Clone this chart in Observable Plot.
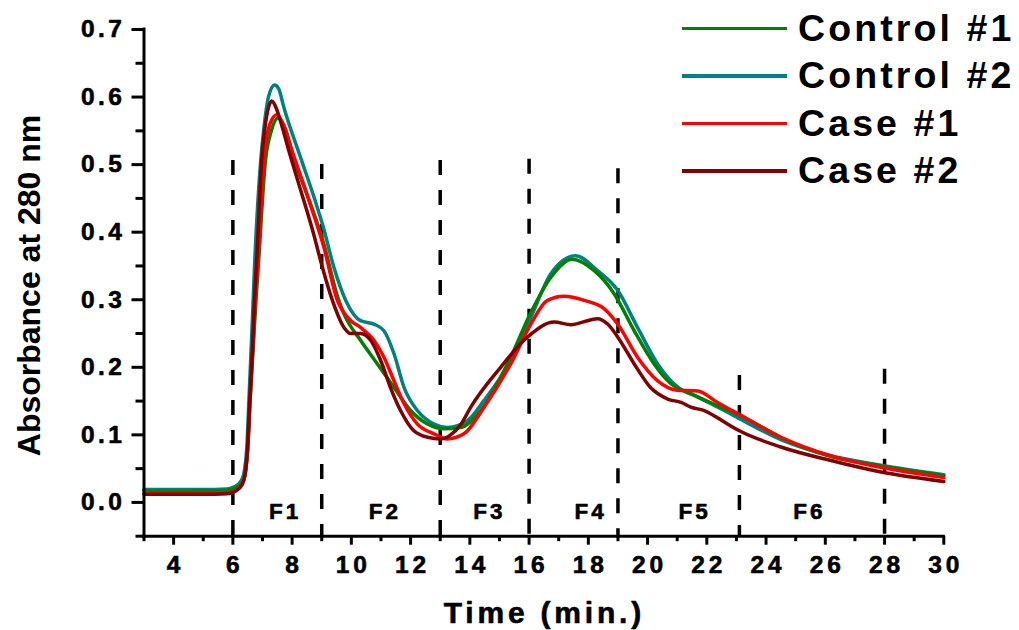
<!DOCTYPE html>
<html><head><meta charset="utf-8">
<script src="https://cdn.jsdelivr.net/npm/d3@7"></script>
<script src="https://cdn.jsdelivr.net/npm/@observablehq/plot@0.6"></script>
<style>
html,body{margin:0;padding:0;background:#fff;}
#wrap{position:relative;width:1019px;height:630px;font-family:"Liberation Sans",Arial,sans-serif;}
#legend{position:absolute;left:682px;top:4.5px;}
.row{display:flex;align-items:center;height:47.6px;}
.sw{width:105px;height:3.5px;margin-right:11px;}
.lab{font-size:37.5px;font-weight:bold;letter-spacing:3.1px;line-height:47.6px;color:#000;white-space:nowrap;}
</style></head><body><div id="wrap"></div>
<script>
// ---- data (time in min, absorbance at 280 nm) ----
const control1 = [[3,0.017],[4,0.017],[5,0.017],[5.8,0.018],[6.1,0.022],[6.32,0.03],[6.43,0.048],[6.5,0.08],[6.58,0.15],[6.68,0.225],[6.78,0.3],[6.87,0.358],[7.1,0.506],[7.3,0.55],[7.52,0.569],[7.75,0.555],[8.05,0.51],[8.55,0.45],[9.1,0.378],[9.25,0.352],[9.53,0.305],[9.75,0.279],[10.31,0.24],[10.88,0.205],[11.44,0.17],[12.0,0.136],[12.57,0.116],[13.13,0.109],[13.69,0.111],[14.37,0.136],[15.38,0.215],[16.06,0.281],[16.73,0.333],[17.45,0.36],[18.2,0.343],[18.87,0.309],[19.55,0.254],[20.22,0.205],[20.78,0.176],[21.46,0.161],[22.36,0.143],[23.3,0.125],[24.5,0.096],[26.19,0.068],[27.88,0.054],[30,0.04]];
const control2 = [[3,0.019],[4,0.019],[5,0.019],[5.8,0.02],[6.05,0.023],[6.28,0.032],[6.4,0.05],[6.47,0.08],[6.55,0.16],[6.64,0.25],[6.74,0.358],[6.94,0.506],[7.05,0.555],[7.2,0.6],[7.41,0.618],[7.55,0.612],[7.72,0.585],[8.29,0.51],[8.79,0.445],[9.05,0.408],[9.41,0.348],[9.81,0.299],[10.31,0.269],[10.76,0.264],[11.1,0.254],[11.44,0.22],[11.78,0.17],[12.23,0.136],[12.79,0.116],[13.24,0.111],[13.92,0.121],[14.48,0.151],[15.38,0.21],[16.06,0.274],[16.73,0.338],[17.57,0.365],[18.31,0.343],[18.99,0.314],[19.66,0.259],[20.34,0.205],[21.01,0.171],[21.69,0.156],[22.59,0.136],[23.1,0.124],[24.5,0.093],[26.19,0.069],[27.88,0.055],[30,0.041]];
const case1 = [[3,0.013],[4,0.013],[5,0.013],[5.8,0.014],[6.1,0.018],[6.32,0.028],[6.43,0.047],[6.5,0.077],[6.58,0.151],[6.67,0.225],[6.76,0.3],[6.85,0.358],[7.05,0.506],[7.25,0.56],[7.48,0.574],[7.7,0.56],[8.0,0.52],[8.51,0.455],[9.07,0.378],[9.53,0.299],[9.98,0.269],[10.31,0.259],[10.76,0.24],[11.1,0.215],[11.44,0.18],[11.78,0.146],[12.23,0.116],[12.79,0.1015],[13.24,0.094],[13.8,0.1015],[14.48,0.141],[15.38,0.205],[16.06,0.264],[16.62,0.299],[17.18,0.305],[17.86,0.299],[18.53,0.287],[18.99,0.264],[19.66,0.215],[20.34,0.18],[21.01,0.166],[21.69,0.165],[22.36,0.148],[23.1,0.13],[24.5,0.0965],[26.19,0.069],[27.88,0.052],[30,0.037]];
const case2 = [[3,0.012],[4,0.012],[5,0.012],[5.8,0.013],[6.1,0.017],[6.32,0.027],[6.43,0.047],[6.49,0.077],[6.57,0.151],[6.66,0.225],[6.73,0.3],[6.82,0.373],[6.97,0.506],[7.1,0.56],[7.31,0.594],[7.45,0.585],[7.67,0.555],[7.88,0.522],[8.29,0.462],[8.74,0.395],[8.96,0.358],[9.36,0.299],[9.75,0.259],[9.98,0.25],[10.31,0.25],[10.65,0.24],[10.99,0.21],[11.32,0.17],[11.66,0.136],[12.11,0.106],[12.57,0.0965],[13.02,0.094],[13.35,0.1],[13.69,0.115],[14.03,0.141],[15.04,0.2],[15.95,0.245],[16.85,0.267],[17.41,0.263],[18.31,0.272],[18.65,0.264],[18.99,0.245],[19.55,0.205],[20.1,0.17],[20.68,0.153],[21.13,0.148],[21.46,0.141],[21.91,0.136],[22.7,0.116],[23.1,0.106],[24.5,0.082],[26.19,0.062],[27.88,0.045],[30,0.031]];

const seriesNames = ["Control #1", "Control #2", "Case #1", "Case #2"];
const seriesColors = ["#008000", "#008080", "#ff0000", "#800000"];

const fractionBoundX = [6, 9, 13, 16, 19, 23.1, 28];
const fractionBoundTop = [0.506, 0.5, 0.506, 0.508, 0.494, 0.188, 0.197];
const fractionNames = ["F1", "F2", "F3", "F4", "F5", "F6"];
const fractionLabelX = [7.71, 11.08, 14.61, 18.03, 21.54, 25.41];
const fractionLabelY = -0.014;

const xDomain = [3, 30];
const yDomain = [-0.05, 0.7];
const xMajor = [4, 6, 8, 10, 12, 14, 16, 18, 20, 22, 24, 26, 28, 30];
const xMinor = [3, 5, 7, 9, 11, 13, 15, 17, 19, 21, 23, 25, 27, 29];
const yMajor = [0, 0.1, 0.2, 0.3, 0.4, 0.5, 0.6, 0.7];
const yMinor = [-0.05, 0.05, 0.15, 0.25, 0.35, 0.45, 0.55, 0.65];

const xTitle = "Time (min.)";
const yTitle = "Absorbance at 280 nm";

// ---- chart ----
const font = '"Liberation Sans", Arial, sans-serif';
const lineOpts = (data, color) => Plot.line(data, {x: d => d[0], y: d => d[1], stroke: color, strokeWidth: 3.5, curve: "monotone-x"});
const bounds = fractionBoundX.map((x, i) => ({x, top: fractionBoundTop[i]}));

const plot = Plot.plot({
  width: 1019, height: 630,
  marginLeft: 143.5, marginRight: 75.7, marginTop: 29, marginBottom: 94.3,
  x: {domain: xDomain, label: null},
  y: {domain: yDomain, label: null},
  style: {fontFamily: font, background: "white", color: "black", overflow: "visible"},
  marks: [
    Plot.ruleX(bounds, {x: "x", y1: "top", y2: yDomain[0], stroke: "black", strokeWidth: 3.5, strokeDasharray: "15,15"}),
    lineOpts(control2, seriesColors[1]),
    lineOpts(control1, seriesColors[0]),
    lineOpts(case1, seriesColors[2]),
    lineOpts(case2, seriesColors[3]),
    Plot.text(fractionNames, {x: fractionLabelX, y: fractionNames.map(() => fractionLabelY), text: d => d, fontSize: 22.5, fontWeight: "bold", fill: "black"}),
    Plot.ruleY([yDomain[0]], {x1: xDomain[0], x2: xDomain[1], stroke: "black", strokeWidth: 3, strokeLinecap: "square"}),
    Plot.ruleX([xDomain[0]], {y1: yDomain[0], y2: yDomain[1], stroke: "black", strokeWidth: 3, strokeLinecap: "square"}),
    Plot.axisX(xMajor, {tickSize: 9, tickPadding: 10, strokeWidth: 3, fontSize: 24.5, fontWeight: "bold", tickFormat: d => String(d), label: null}),
    Plot.axisX(xMinor, {tickSize: 5.5, strokeWidth: 3, fill: "none", label: null}),
    Plot.axisY(yMajor, {tickSize: 12, tickPadding: 6.5, strokeWidth: 3, fontSize: 24.5, fontWeight: "bold", tickFormat: d3.format(".1f"), label: null}),
    Plot.axisY(yMinor, {tickSize: 8, strokeWidth: 3, fill: "none", label: null})
  ]
});

const svg = d3.select(plot);
const heavy = sel => sel.attr("stroke", "black").attr("stroke-width", 0.6).attr("stroke-linejoin", "round");
heavy(svg.selectAll('g[aria-label="x-axis tick label"] text').attr("letter-spacing", 4).attr("dx", 2).attr("font-size", 24.5).attr("font-weight", "bold"));
heavy(svg.selectAll('g[aria-label="y-axis tick label"] text').attr("letter-spacing", 3.5).attr("font-size", 24.5).attr("font-weight", "bold"));
heavy(svg.selectAll('g[aria-label="text"] text').attr("letter-spacing", 3).attr("dx", 1.5).attr("font-size", 22.5));

heavy(svg.append("text")
  .attr("x", 542.5 + 1.9).attr("y", 623)
  .attr("text-anchor", "middle")
  .attr("font-size", 30).attr("font-weight", "bold").attr("letter-spacing", 3.8)
  .attr("fill", "black").attr("font-family", font)
  .text(xTitle));
svg.append("text")
  .attr("transform", "translate(40,285.5) rotate(-90)")
  .attr("text-anchor", "middle")
  .attr("font-size", 32).attr("font-weight", "bold")
  .attr("fill", "black").attr("font-family", font)
  .text(yTitle);

const wrap = document.getElementById("wrap");
wrap.appendChild(plot);

// legend overlay
const legend = document.createElement("div");
legend.id = "legend";
seriesNames.forEach((name, i) => {
  const row = document.createElement("div");
  row.className = "row";
  const sw = document.createElement("div");
  sw.className = "sw";
  sw.style.background = seriesColors[i];
  const lab = document.createElement("span");
  lab.className = "lab";
  lab.textContent = name;
  row.appendChild(sw);
  row.appendChild(lab);
  legend.appendChild(row);
});
wrap.appendChild(legend);
</script>
</body></html>
